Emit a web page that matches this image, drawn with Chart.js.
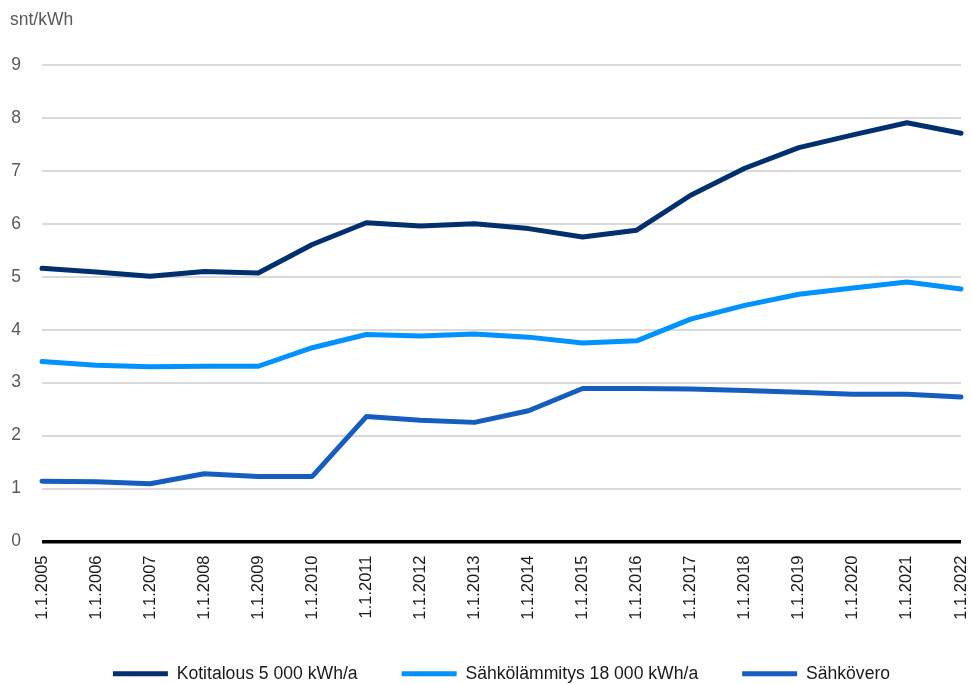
<!DOCTYPE html>
<html lang="fi">
<head>
<meta charset="utf-8">
<title>Sähkön hinta</title>
<script src="https://cdn.jsdelivr.net/npm/chart.js@4/dist/chart.umd.min.js"></script>
<style>
  html, body { margin: 0; padding: 0; background: #ffffff; }
  #wrap { width: 971px; height: 684px; position: relative; }
</style>
</head>
<body>
<div id="wrap"><canvas id="chart" width="971" height="684"></canvas></div>
<script>
// Vuodet (1.1. kunkin vuoden alussa)
const categories = ['1.1.2005','1.1.2006','1.1.2007','1.1.2008','1.1.2009','1.1.2010','1.1.2011','1.1.2012','1.1.2013',
  '1.1.2014','1.1.2015','1.1.2016','1.1.2017','1.1.2018','1.1.2019','1.1.2020','1.1.2021','1.1.2022'];

// snt/kWh
const kotitalous = [5.16, 5.09, 5.01, 5.10, 5.07, 5.61, 6.02, 5.96, 6.00, 5.91, 5.75, 5.88, 6.54, 7.05, 7.44, 7.68, 7.91, 7.71];
const sahkolammitys = [3.40, 3.33, 3.30, 3.31, 3.31, 3.66, 3.91, 3.88, 3.92, 3.86, 3.75, 3.79, 4.20, 4.46, 4.67, 4.79, 4.90, 4.77];
const sahkovero = [1.14, 1.13, 1.09, 1.28, 1.23, 1.23, 2.36, 2.29, 2.25, 2.47, 2.89, 2.89, 2.88, 2.85, 2.82, 2.78, 2.78, 2.73];

const seriesNames = ['Kotitalous 5 000 kWh/a', 'Sähkölämmitys 18 000 kWh/a', 'Sähkövero'];
const yUnit = 'snt/kWh';

const FONT = "'Liberation Sans', Arial, sans-serif";

function lineSet(label, data, color) {
  return {
    label, data,
    borderColor: color,
    backgroundColor: color,
    borderWidth: 5,
    borderCapStyle: 'round',
    borderJoinStyle: 'round',
    pointRadius: 0,
    pointHoverRadius: 0,
    tension: 0,
    fill: false,
    clip: false
  };
}

// Yksikköteksti pystyakselin yläpuolelle
const unitLabel = {
  id: 'unitLabel',
  afterDraw(chart) {
    const ctx = chart.ctx;
    ctx.save();
    ctx.font = `17.5px ${FONT}`;
    ctx.fillStyle = '#595959';
    ctx.textAlign = 'left';
    ctx.textBaseline = 'alphabetic';
    ctx.fillText(yUnit, 10, 25);
    ctx.restore();
  }
};

new Chart(document.getElementById('chart'), {
  type: 'line',
  data: {
    labels: categories,
    datasets: [
      lineSet(seriesNames[0], kotitalous, '#00306f'),
      lineSet(seriesNames[1], sahkolammitys, '#0092ff'),
      lineSet(seriesNames[2], sahkovero, '#155ec0')
    ]
  },
  plugins: [unitLabel],
  options: {
    responsive: false,
    animation: false,
    events: [],
    layout: { padding: { left: 4, right: 10, top: 65, bottom: 0 } },
    plugins: {
      tooltip: { enabled: false },
      title: { display: false },
      legend: {
        position: 'bottom',
        fullSize: false,
        maxHeight: 63,
        labels: {
          usePointStyle: true,
          pointStyle: 'line',
          pointStyleWidth: 55,
          padding: 44,
          color: '#1a1a1a',
          font: { family: FONT, size: 17.6 }
        }
      }
    },
    scales: {
      x: {
        grid: { display: false, drawTicks: false },
        border: { display: false },
        ticks: {
          autoSkip: false,
          minRotation: 90,
          maxRotation: 90,
          padding: 14,
          color: '#1a1a1a',
          font: { family: FONT, size: 16.5 }
        },
        afterFit: (scale) => {
          scale.height = 79.5;
          scale.paddingLeft = 0;
          scale.paddingRight = 0;
        }
      },
      y: {
        min: 0,
        max: 9,
        grid: {
          drawTicks: false,
          color: (ctx) => ctx.tick && ctx.tick.value === 0 ? '#000000' : '#d9d9d9',
          lineWidth: (ctx) => ctx.tick && ctx.tick.value === 0 ? 3.5 : 2
        },
        border: { display: false },
        ticks: {
          stepSize: 1,
          padding: 21,
          color: '#595959',
          font: { family: FONT, size: 17.5 }
        },
        afterFit: (scale) => { scale.width = 38; }
      }
    }
  }
});
</script>
</body>
</html>
